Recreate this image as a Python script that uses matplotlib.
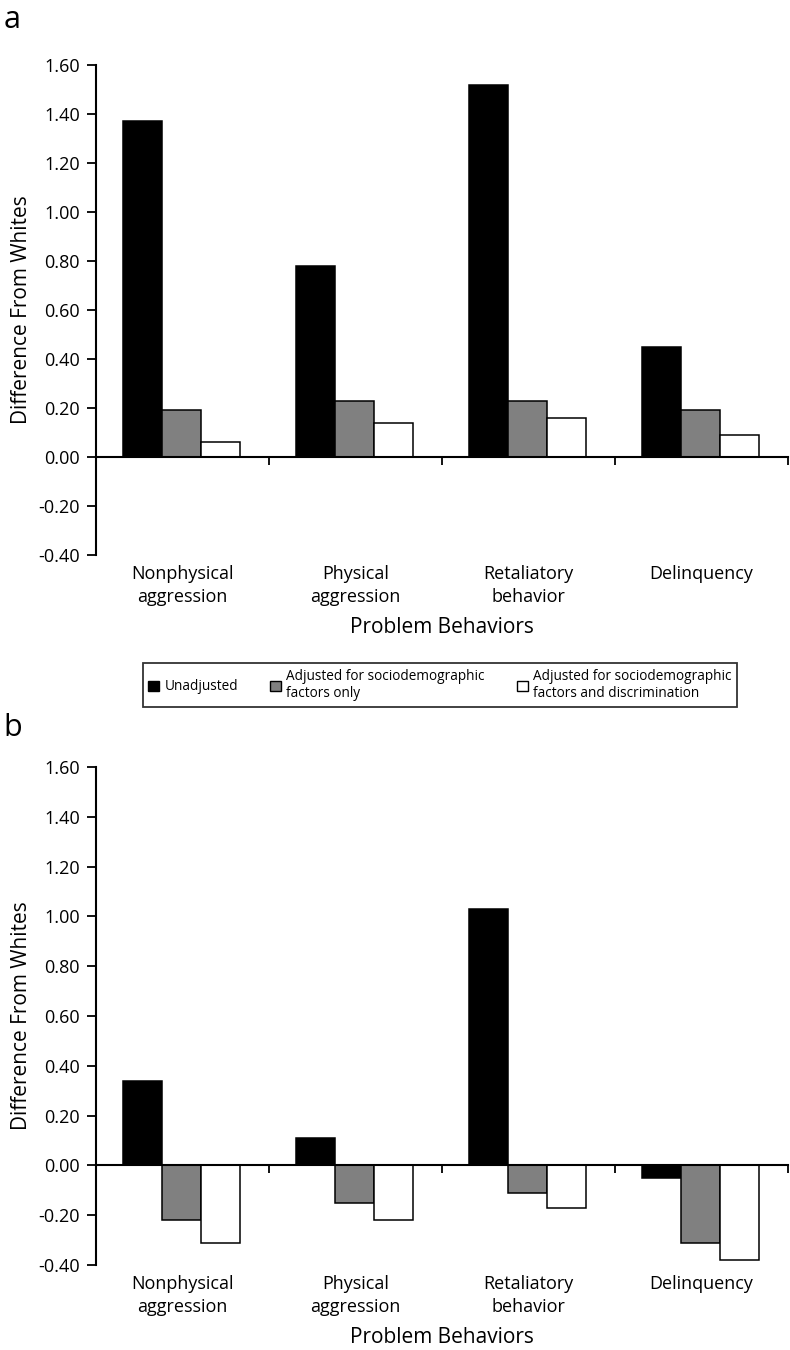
import matplotlib
matplotlib.use("Agg")
import matplotlib.pyplot as plt
from matplotlib.patches import Patch
import numpy as np

plt.rcParams["font.family"] = ["Open Sans", "DejaVu Sans"]
plt.rcParams["axes.unicode_minus"] = False

categories = ["Nonphysical\naggression", "Physical\naggression", "Retaliatory\nbehavior", "Delinquency"]
series_labels = ["Unadjusted",
                 "Adjusted for sociodemographic\nfactors only",
                 "Adjusted for sociodemographic\nfactors and discrimination"]
series_colors = ["#000000", "#808080", "#ffffff"]

# panel a
a_unadjusted = [1.37, 0.78, 1.52, 0.45]
a_socio = [0.19, 0.23, 0.23, 0.19]
a_socio_discr = [0.06, 0.14, 0.16, 0.09]

# panel b
b_unadjusted = [0.34, 0.11, 1.03, -0.05]
b_socio = [-0.22, -0.15, -0.11, -0.31]
b_socio_discr = [-0.31, -0.22, -0.17, -0.38]

yticks = [-0.40, -0.20, 0.00, 0.20, 0.40, 0.60, 0.80, 1.00, 1.20, 1.40, 1.60]

W, H = 790, 1350
fig = plt.figure(figsize=(W / 100, H / 100), dpi=100)


def draw_panel(rect, data, letter, letter_y):
    ax = fig.add_axes(rect)
    x = np.arange(len(categories))
    width = 0.225
    for k, (vals, color) in enumerate(zip(data, series_colors)):
        ax.bar(x + 0.495 + (k - 1) * width, vals, width, color=color,
               edgecolor="black", linewidth=1.1, zorder=2)
    ax.set_xlim(0, 4)
    ax.set_ylim(-0.40, 1.60)
    ax.set_yticks(yticks)
    ax.set_yticklabels([f"{v:.2f}" for v in yticks])
    for s in ["top", "right"]:
        ax.spines[s].set_visible(False)
    ax.spines["left"].set_linewidth(1.5)
    ax.spines["bottom"].set_position(("data", 0))
    ax.spines["bottom"].set_linewidth(1.5)
    ax.spines["bottom"].set_zorder(3)
    ax.set_xticks(np.arange(0, 5))
    ax.set_xticklabels([])
    ax.tick_params(axis="x", direction="out", length=5.5, width=1.3)
    ax.tick_params(axis="y", direction="out", length=6.5, width=1.3, pad=5, labelsize=13)
    for i, lab in enumerate(categories):
        ax.annotate(lab, xy=(i + 0.5, 0), xycoords=("data", "axes fraction"),
                    xytext=(0, -7.5), textcoords="offset points", ha="center", va="top",
                    fontsize=13, linespacing=1.32)
    ax.annotate("Problem Behaviors", xy=(0.5, 0), xycoords="axes fraction",
                xytext=(0, -52.5), textcoords="offset points", ha="center", va="center",
                fontsize=15)
    ax.set_ylabel("Difference From Whites", fontsize=15)
    ax.yaxis.set_label_coords(-0.092, 0.5)
    fig.text(0.004, letter_y, letter, fontsize=22, ha="left", va="center")
    return ax


draw_panel([96 / W, 1 - 555 / H, 692 / W, 490 / H],
           [a_unadjusted, a_socio, a_socio_discr], "a", 1 - 20 / H)
draw_panel([96 / W, 1 - 1265 / H, 692 / W, 498 / H],
           [b_unadjusted, b_socio, b_socio_discr], "b", 1 - 728 / H)

handles = [Patch(facecolor=c, edgecolor="black", linewidth=1.0) for c in series_colors]
leg = fig.legend(handles, series_labels, loc="center", bbox_to_anchor=(440 / W, 1 - 685 / H),
                 ncol=3, fontsize=9.8, frameon=True, fancybox=False, edgecolor="black",
                 handlelength=0.8, handleheight=0.8, handletextpad=0.4,
                 columnspacing=2.35, borderpad=0.4, labelspacing=0.2)
leg.get_frame().set_linewidth(1.3)

fig.savefig("out.png", dpi=100)
